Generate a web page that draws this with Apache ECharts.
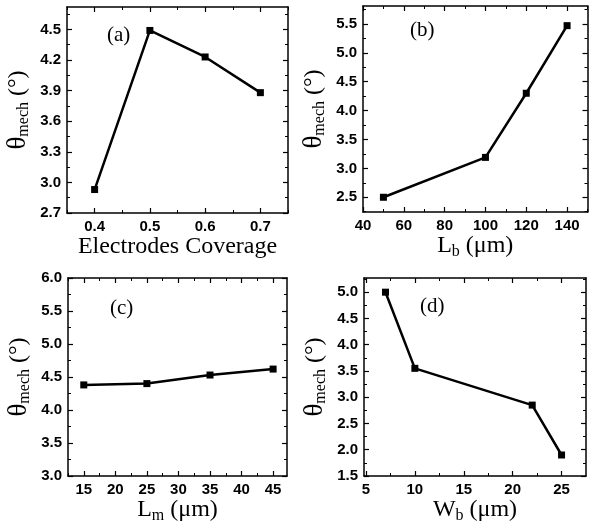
<!DOCTYPE html>
<html>
<head>
<meta charset="utf-8">
<style>
  html, body { margin: 0; padding: 0; background: #fff; }
  #chart { width: 589px; height: 527px; }
</style>
<script src="https://cdn.jsdelivr.net/npm/echarts@6.0.0/dist/echarts.min.js"></script>
</head>
<body>
<div id="chart"></div>
<script>
(function () {
  'use strict';

  // (a) theta_mech vs electrodes coverage
  var coverage = [0.4, 0.5, 0.6, 0.7];
  var thetaA = [2.93, 4.49, 4.23, 3.88];
  // (b) theta_mech vs Lb (um)
  var lengthB = [50, 100, 120, 140];
  var thetaB = [2.5, 3.19, 4.3, 5.47];
  // (c) theta_mech vs Lm (um)
  var lengthM = [15, 25, 35, 45];
  var thetaC = [4.38, 4.40, 4.53, 4.62];
  // (d) theta_mech vs Wb (um)
  var widthB = [7, 10, 22, 25];
  var thetaD = [5.0, 3.55, 2.85, 1.9];

  // tick values
  var ticksAx = [0.4, 0.5, 0.6, 0.7];
  var minorAx = [0.35, 0.45, 0.55, 0.65, 0.75];
  var ticksAy = [2.7, 3.0, 3.3, 3.6, 3.9, 4.2, 4.5];
  var minorAy = [2.85, 3.15, 3.45, 3.75, 4.05, 4.35, 4.65];
  var ticksBx = [40, 60, 80, 100, 120, 140];
  var minorBx = [50, 70, 90, 110, 130, 150];
  var ticksBy = [2.5, 3.0, 3.5, 4.0, 4.5, 5.0, 5.5];
  var minorBy = [2.25, 2.75, 3.25, 3.75, 4.25, 4.75, 5.25, 5.75];
  var ticksCx = [15, 20, 25, 30, 35, 40, 45];
  var minorCx = [12.5, 17.5, 22.5, 27.5, 32.5, 37.5, 42.5];
  var ticksCy = [3.0, 3.5, 4.0, 4.5, 5.0, 5.5, 6.0];
  var minorCy = [3.25, 3.75, 4.25, 4.75, 5.25, 5.75];
  var ticksDx = [5, 10, 15, 20, 25];
  var minorDx = [7.5, 12.5, 17.5, 22.5];
  var ticksDy = [1.5, 2.0, 2.5, 3.0, 3.5, 4.0, 4.5, 5.0];
  var minorDy = [1.75, 2.25, 2.75, 3.25, 3.75, 4.25, 4.75, 5.25];

  var SERIF = '"Liberation Serif", "DejaVu Serif", serif';
  var SANS = '"Liberation Sans", Arial, sans-serif';

  var nameRich = {
    t: { fontFamily: SERIF, fontSize: 27, color: '#000' },
    b: { fontFamily: SERIF, fontSize: 24, color: '#000' },
    s: { fontFamily: SERIF, fontSize: 16, color: '#000', padding: [12, 0, 0, 0] }
  };

  var yName = '{t|\u03b8}{s|mech}{b| (\u00b0)}';

  function axisSet(dim, gi, min, max, majors, minors, decimals, name, nameGap) {
    var pos = dim === 'x' ? ['bottom', 'top'] : ['left', 'right'];
    var list = [];
    pos.forEach(function (p, k) {
      list.push({
        type: 'value', gridIndex: gi, position: p, min: min, max: max,
        name: k === 0 ? name : '',
        nameLocation: 'middle',
        nameGap: nameGap,
        nameRotate: dim === 'y' ? 90 : 0,
        nameTextStyle: { rich: nameRich },
        axisLine: { show: true, onZero: false, lineStyle: { color: '#000', width: 1.5 } },
        axisTick: { show: true, inside: true, length: 5, customValues: majors,
          lineStyle: { color: '#000', width: 1.2 } },
        axisLabel: {
          show: k === 0, customValues: majors, margin: 6,
          color: '#000', fontFamily: SANS, fontWeight: 'bold', fontSize: 15,
          formatter: function (v) { return Number(v).toFixed(decimals); }
        },
        splitLine: { show: false }
      });
      list.push({
        type: 'value', gridIndex: gi, position: p, min: min, max: max,
        axisLine: { show: false, onZero: false },
        axisTick: { show: true, inside: true, length: 3, customValues: minors,
          lineStyle: { color: '#000', width: 1 } },
        axisLabel: { show: false },
        splitLine: { show: false }
      });
    });
    return list;
  }

  var xAxes = [].concat(
    axisSet('x', 0, 0.35, 0.75, ticksAx, minorAx, 1, '{b|Electrodes Coverage}', 20),
    axisSet('x', 1, 40, 150, ticksBx, minorBx, 0, '{b|L}{s|b}{b| (\u03bcm)}', 20),
    axisSet('x', 2, 12.5, 47.2, ticksCx, minorCx, 0, '{b|L}{s|m}{b| (\u03bcm)}', 20),
    axisSet('x', 3, 4.8, 27.5, ticksDx, minorDx, 0, '{b|W}{s|b}{b| (\u03bcm)}', 20)
  );
  var yAxes = [].concat(
    axisSet('y', 0, 2.7, 4.72, ticksAy, minorAy, 1, yName, 35),
    axisSet('y', 1, 2.245, 5.81, ticksBy, minorBy, 1, yName, 35),
    axisSet('y', 2, 3.0, 6.0, ticksCy, minorCy, 1, yName, 35),
    axisSet('y', 3, 1.5, 5.27, ticksDy, minorDy, 1, yName, 35)
  );

  function zip(xs, ys) {
    return xs.map(function (x, i) { return [x, ys[i]]; });
  }

  function lineSeries(gi, data) {
    return {
      type: 'line', xAxisIndex: gi * 4, yAxisIndex: gi * 4,
      data: data, symbol: 'rect', symbolSize: 7, showSymbol: true,
      lineStyle: { color: '#000', width: 2.5 },
      itemStyle: { color: '#000' },
      animation: false, silent: true
    };
  }

  function panelLabel(text, x, y) {
    return {
      type: 'text', left: x, top: y,
      style: { text: text, fontFamily: SERIF, fontSize: 21, fill: '#000' }
    };
  }

  var chart = echarts.init(document.getElementById('chart'));
  chart.setOption({
    backgroundColor: '#fff',
    animation: false,
    grid: [
      { left: 67, top: 7, width: 221, height: 206, outerBoundsMode: 'none' },
      { left: 363, top: 6, width: 224.5, height: 206, outerBoundsMode: 'none' },
      { left: 68, top: 278, width: 219, height: 198, outerBoundsMode: 'none' },
      { left: 364, top: 278, width: 222, height: 198, outerBoundsMode: 'none' }
    ],
    xAxis: xAxes,
    yAxis: yAxes,
    series: [
      lineSeries(0, zip(coverage, thetaA)),
      lineSeries(1, zip(lengthB, thetaB)),
      lineSeries(2, zip(lengthM, thetaC)),
      lineSeries(3, zip(widthB, thetaD))
    ],
    graphic: [
      panelLabel('(a)', 107, 25),
      panelLabel('(b)', 410, 20),
      panelLabel('(c)', 110, 298),
      panelLabel('(d)', 420, 296)
    ]
  });
})();
</script>
</body>
</html>
